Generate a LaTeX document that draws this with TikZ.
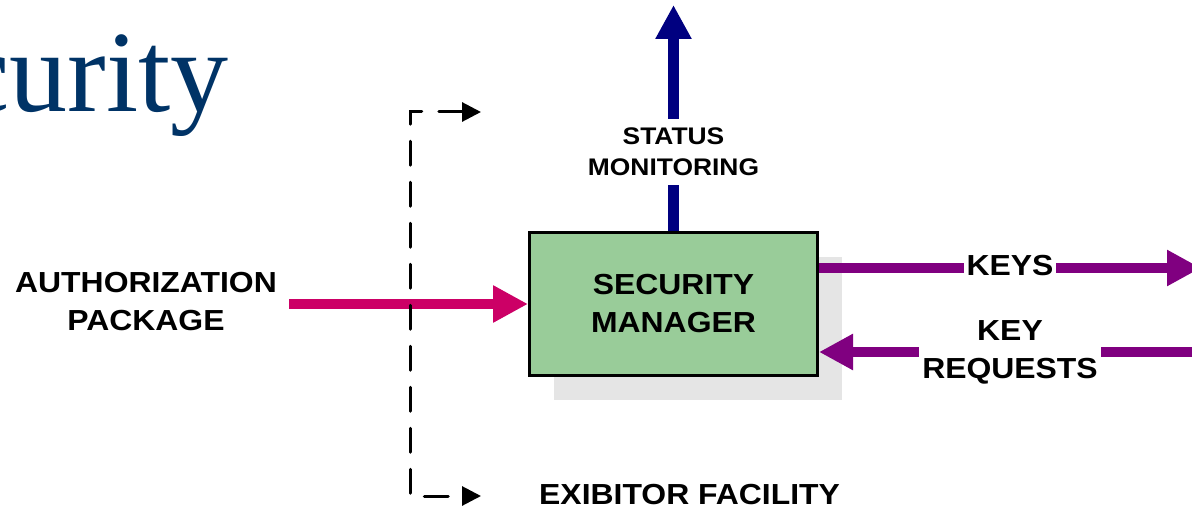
\documentclass[tikz,border=0pt]{standalone}
\usepackage{fontspec}
\usetikzlibrary{arrows.meta,shadows}
\newfontfamily\lab{Liberation Sans}[FakeStretch=1.1]
\newfontfamily\ttl{Liberation Serif}
\definecolor{authpink}{HTML}{CC0066}
\definecolor{statnavy}{HTML}{000080}
\definecolor{keypurple}{HTML}{800080}
\definecolor{smgreen}{HTML}{99CC99}
\definecolor{smshadow}{HTML}{E5E5E5}
\definecolor{ttlblue}{HTML}{003366}

\begin{document}
\begin{tikzpicture}[x=1pt, y=-1pt, >={Triangle[length=34pt,width=34pt]}, node distance=527.5pt,
  main node/.style={draw, line width=3pt, fill=smgreen, minimum width=288pt, minimum height=143pt, align=center, font=\lab\fontsize{29}{38}\selectfont\bfseries, drop shadow={shadow xshift=24pt, shadow yshift=-24pt, fill=smshadow, opacity=1}},
  text node/.style={align=center, inner xsep=3pt, inner ysep=9pt, font=\lab\fontsize{29}{38}\selectfont\bfseries},
  wire/.style={->, line width=10pt},
  fac line/.style={<->, >={Triangle[length=19pt,width=19pt]}, line width=3pt, line cap=round, dash pattern=on 24pt off 17pt}]
                \useasboundingbox (0,0) rectangle (1192,508);
                \clip (0,0) rectangle (1192,508);

                % title, cut off at the left edge
                \node[anchor=base east, inner sep=0pt, text=ttlblue, font=\ttl\fontsize{116}{116}\selectfont] (title) at (229,112) {Security};

                \node[main node] (sm) at (673.5,304) {SECURITY\\MANAGER};
                \node[text node] (auth) [left of = sm, yshift=2pt] {AUTHORIZATION\\PACKAGE};
                \node[text node, anchor=base west] (fac) at (536,504) {EXIBITOR FACILITY};

                \coordinate (ain) at (289,304);
                \coordinate (sout) at (673.5,5);
                \coordinate (kout) at (1201,268);
                \coordinate (rin) at (1201,352);
                \coordinate (dtop) at (481,112);
                \coordinate (dbot) at (481,496);

                \path
                    (ain) edge[wire, draw=authpink, >={Triangle[length=35pt,width=35pt]}] (sm.west)
                    (sm.north) edge[wire, draw=statnavy, line width=11pt] node[text node, fill=white, pos=0.35, font=\lab\fontsize{24}{31}\selectfont\bfseries] {STATUS\\MONITORING} (sout)
                    (kout -| sm.east) edge[wire, draw=keypurple] node[text node, fill=white, yshift=2pt] {KEYS} (kout)
                    (rin) edge[wire, draw=keypurple] node[text node, fill=white] {KEY\\REQUESTS} (rin -| sm.east)
                ;

                \draw[fac line] (dtop) -- ++(-71,0) |- (dbot);
            \end{tikzpicture}
\end{document}
